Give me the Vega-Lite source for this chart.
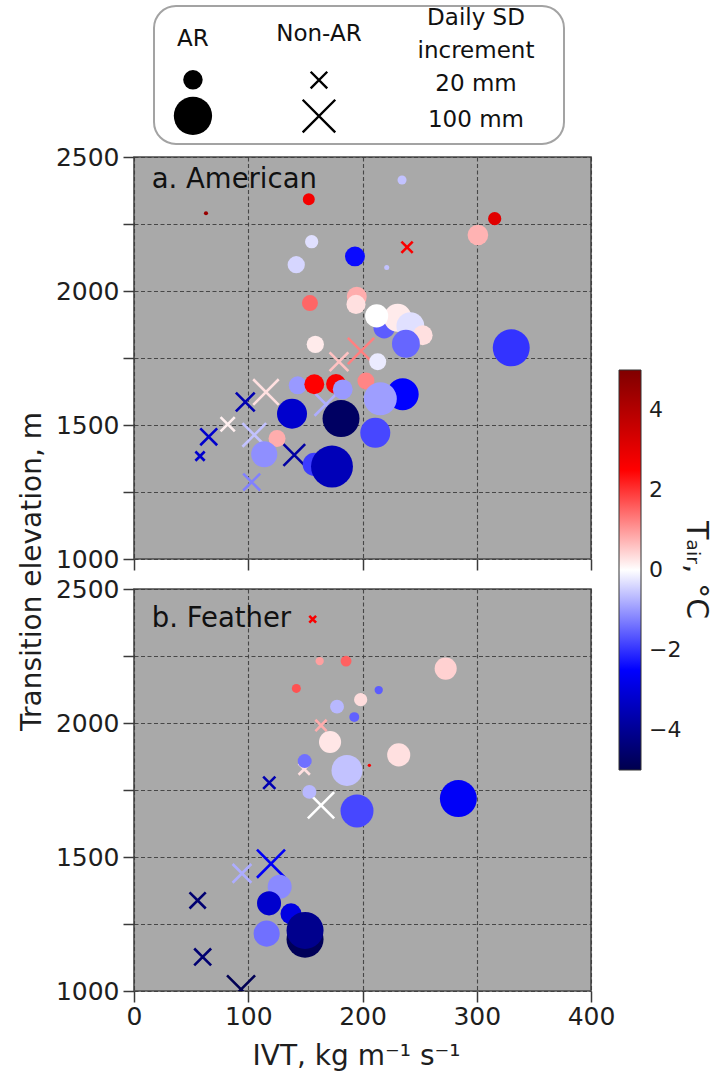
{
  "$schema": "https://vega.github.io/schema/vega-lite/v6.json",
  "autosize": {"type": "pad"},
  "padding": {"left": 17, "top": 4, "right": 14, "bottom": 0},
  "background": "white",
  "config": {
    "font": "DejaVu Sans",
    "view": {"stroke": "#4a4a4a", "strokeWidth": 1.6, "fill": "#a9a9a9"},
    "axis": {
      "labelFontSize": 25, "labelColor": "#1e1e1e", "format": "d",
      "labelFlush": false, "labelOverlap": false, "labelPadding": 4,
      "titleFontSize": 28, "titleFontWeight": "normal", "titleColor": "#1e1e1e",
      "domain": false, "tickColor": "#3a3a3a", "tickWidth": 1.5, "tickSize": 11,
      "grid": true, "gridColor": "#3c3c3c", "gridDash": [4, 2.5], "gridWidth": 1.1, "gridOpacity": 0.9
    },
    "legend": {"gradientLength": 400, "gradientThickness": 22}
  },
  "datasets": {
    "key": [
      {"col": "AR", "row": "head", "label": "AR"},
      {"col": "Non-AR", "row": "head", "label": "Non-AR"},
      {"col": "Daily", "row": "head", "label": "Daily SD\nincrement"},
      {"col": "AR", "row": "20 mm", "sd": 20},
      {"col": "AR", "row": "100 mm", "sd": 100},
      {"col": "Non-AR", "row": "20 mm", "sd": 20},
      {"col": "Non-AR", "row": "100 mm", "sd": 100},
      {"col": "Daily", "row": "20 mm", "label": "20 mm"},
      {"col": "Daily", "row": "100 mm", "label": "100 mm"}
    ],
    "american": [
      {"type": "Non-AR", "ivt": 239, "elev": 2163, "tair": 2.6, "sd": 8},
      {"type": "Non-AR", "ivt": 198.7, "elev": 1776, "tair": 1.25, "sd": 60},
      {"type": "Non-AR", "ivt": 179.4, "elev": 1736, "tair": 0.6, "sd": 27},
      {"type": "Non-AR", "ivt": 115.5, "elev": 1623, "tair": 0.3, "sd": 56},
      {"type": "Non-AR", "ivt": 97.4, "elev": 1586, "tair": -3.6, "sd": 27},
      {"type": "Non-AR", "ivt": 82, "elev": 1503, "tair": 0.15, "sd": 14},
      {"type": "Non-AR", "ivt": 65.4, "elev": 1456, "tair": -3.2, "sd": 21},
      {"type": "Non-AR", "ivt": 57.8, "elev": 1384, "tair": -3.2, "sd": 5},
      {"type": "Non-AR", "ivt": 105.3, "elev": 1463, "tair": -0.6, "sd": 47},
      {"type": "Non-AR", "ivt": 103, "elev": 1287, "tair": -1.25, "sd": 21},
      {"type": "Non-AR", "ivt": 140.3, "elev": 1388, "tair": -3.8, "sd": 38},
      {"type": "Non-AR", "ivt": 168, "elev": 1577, "tair": -0.8, "sd": 43},
      {"type": "AR", "ivt": 63, "elev": 2290, "tair": 4.5, "sd": 0.5},
      {"type": "AR", "ivt": 153, "elev": 2342, "tair": 2.7, "sd": 6.3},
      {"type": "AR", "ivt": 155.5, "elev": 2184, "tair": -0.3, "sd": 8},
      {"type": "AR", "ivt": 142, "elev": 2098, "tair": -0.4, "sd": 15},
      {"type": "AR", "ivt": 154, "elev": 1955, "tair": 1.5, "sd": 12.5},
      {"type": "AR", "ivt": 158.7, "elev": 1801, "tair": 0.2, "sd": 15},
      {"type": "AR", "ivt": 234.6, "elev": 2414, "tair": -0.6, "sd": 3.2},
      {"type": "AR", "ivt": 315.7, "elev": 2270, "tair": 3.1, "sd": 8},
      {"type": "AR", "ivt": 301, "elev": 2209, "tair": 0.75, "sd": 23},
      {"type": "AR", "ivt": 193.4, "elev": 2129, "tair": -2.4, "sd": 21},
      {"type": "AR", "ivt": 221.2, "elev": 2088, "tair": -0.6, "sd": 0.8},
      {"type": "AR", "ivt": 195, "elev": 1979, "tair": 0.8, "sd": 21},
      {"type": "AR", "ivt": 194.3, "elev": 1950, "tair": 0.3, "sd": 19},
      {"type": "AR", "ivt": 219, "elev": 1863, "tair": -1.6, "sd": 25},
      {"type": "AR", "ivt": 230.8, "elev": 1900, "tair": 0.2, "sd": 47},
      {"type": "AR", "ivt": 241.9, "elev": 1869, "tair": -0.3, "sd": 47},
      {"type": "AR", "ivt": 212.4, "elev": 1907, "tair": 0.0, "sd": 30},
      {"type": "AR", "ivt": 252.7, "elev": 1835, "tair": 0.3, "sd": 21},
      {"type": "AR", "ivt": 238, "elev": 1803, "tair": -1.5, "sd": 47},
      {"type": "AR", "ivt": 330.2, "elev": 1788, "tair": -2.0, "sd": 92},
      {"type": "AR", "ivt": 213.3, "elev": 1736, "tair": -0.2, "sd": 14.5},
      {"type": "AR", "ivt": 125.2, "elev": 1450, "tair": 0.8, "sd": 14.5},
      {"type": "AR", "ivt": 114, "elev": 1391, "tair": -1.1, "sd": 40},
      {"type": "AR", "ivt": 138.3, "elev": 1542, "tair": -3.2, "sd": 56},
      {"type": "AR", "ivt": 143.3, "elev": 1648, "tair": -1.0, "sd": 16.6},
      {"type": "AR", "ivt": 157.8, "elev": 1652, "tair": 2.5, "sd": 21},
      {"type": "AR", "ivt": 176.8, "elev": 1653, "tair": 2.6, "sd": 21},
      {"type": "AR", "ivt": 182.7, "elev": 1633, "tair": -1.0, "sd": 21},
      {"type": "AR", "ivt": 203, "elev": 1664, "tair": 1.2, "sd": 14.5},
      {"type": "AR", "ivt": 235.2, "elev": 1615, "tair": -2.5, "sd": 65},
      {"type": "AR", "ivt": 215.6, "elev": 1598, "tair": -0.95, "sd": 70},
      {"type": "AR", "ivt": 211.2, "elev": 1471, "tair": -1.8, "sd": 56},
      {"type": "AR", "ivt": 157.8, "elev": 1353, "tair": -1.9, "sd": 30},
      {"type": "AR", "ivt": 173.3, "elev": 1345, "tair": -3.5, "sd": 124},
      {"type": "AR", "ivt": 181.2, "elev": 1524, "tair": -4.7, "sd": 92}
    ],
    "feather": [
      {"type": "Non-AR", "ivt": 156.4, "elev": 2387, "tair": 2.6, "sd": 2.4},
      {"type": "Non-AR", "ivt": 163.7, "elev": 1991, "tair": 0.8, "sd": 8},
      {"type": "Non-AR", "ivt": 149, "elev": 1828, "tair": 0.3, "sd": 8},
      {"type": "Non-AR", "ivt": 118.4, "elev": 1777, "tair": -3.6, "sd": 9.6},
      {"type": "Non-AR", "ivt": 163.7, "elev": 1693, "tair": 0.0, "sd": 60},
      {"type": "Non-AR", "ivt": 119.9, "elev": 1475, "tair": -2.6, "sd": 70},
      {"type": "Non-AR", "ivt": 94.5, "elev": 1439, "tair": -0.8, "sd": 27},
      {"type": "Non-AR", "ivt": 55.7, "elev": 1338, "tair": -4.5, "sd": 19},
      {"type": "Non-AR", "ivt": 60.1, "elev": 1127, "tair": -4.5, "sd": 21},
      {"type": "Non-AR", "ivt": 93.7, "elev": 1006, "tair": -4.9, "sd": 70},
      {"type": "AR", "ivt": 162.5, "elev": 2231, "tair": 0.93, "sd": 2.6},
      {"type": "AR", "ivt": 142.1, "elev": 2129, "tair": 1.7, "sd": 3.2},
      {"type": "AR", "ivt": 185.6, "elev": 2231, "tair": 1.55, "sd": 5},
      {"type": "AR", "ivt": 272.8, "elev": 2203, "tair": 0.45, "sd": 27},
      {"type": "AR", "ivt": 214.2, "elev": 2123, "tair": -1.6, "sd": 2.6},
      {"type": "AR", "ivt": 198.4, "elev": 2087, "tair": 0.33, "sd": 8},
      {"type": "AR", "ivt": 177.7, "elev": 2061, "tair": -0.7, "sd": 9},
      {"type": "AR", "ivt": 192.8, "elev": 2022, "tair": -1.55, "sd": 4},
      {"type": "AR", "ivt": 171.6, "elev": 1929, "tair": 0.25, "sd": 27},
      {"type": "AR", "ivt": 231.7, "elev": 1881, "tair": 0.3, "sd": 30},
      {"type": "AR", "ivt": 206, "elev": 1842, "tair": 2.6, "sd": 0.3},
      {"type": "AR", "ivt": 149.4, "elev": 1858, "tair": -1.4, "sd": 9},
      {"type": "AR", "ivt": 186.4, "elev": 1823, "tair": -0.6, "sd": 60},
      {"type": "AR", "ivt": 153.5, "elev": 1743, "tair": -0.7, "sd": 9},
      {"type": "AR", "ivt": 195.2, "elev": 1672, "tair": -1.8, "sd": 70},
      {"type": "AR", "ivt": 283.9, "elev": 1718, "tair": -2.6, "sd": 92},
      {"type": "AR", "ivt": 127.5, "elev": 1389, "tair": -1.15, "sd": 33},
      {"type": "AR", "ivt": 118.2, "elev": 1327, "tair": -3.2, "sd": 33},
      {"type": "AR", "ivt": 116.1, "elev": 1214, "tair": -1.4, "sd": 40},
      {"type": "AR", "ivt": 137.4, "elev": 1288, "tair": -2.9, "sd": 24},
      {"type": "AR", "ivt": 149.7, "elev": 1193, "tair": -4.85, "sd": 92},
      {"type": "AR", "ivt": 149.7, "elev": 1226, "tair": -4.1, "sd": 92}
    ]
  },
  "bounds": "flush",
  "spacing": 30,
  "vconcat": [
    {
      "width": 457,
      "height": 402,
      "resolve": {"scale": {"x": "independent", "y": "independent"}},
      "layer": [
        {
          "data": {"name": "american"},
          "layer": [
            {
              "transform": [{"filter": "datum.type === 'Non-AR'"}],
              "mark": {"type": "point", "shape": "M-0.85,-0.85L0.85,0.85M0.85,-0.85L-0.85,0.85", "filled": false, "strokeWidth": 2.6, "opacity": 1, "clip": true},
              "encoding": {
                "x": {"field": "ivt", "type": "quantitative", "scale": {"domain": [0, 400], "nice": false, "zero": false},
                      "axis": {"orient": "bottom", "values": [0, 100, 200, 300, 400], "labels": false, "title": null}},
                "y": {"field": "elev", "type": "quantitative", "scale": {"domain": [1000, 2500], "nice": false, "zero": false},
                      "axis": {"orient": "left", "values": [1000, 1250, 1500, 1750, 2000, 2250, 2500], "labelExpr": "datum.value % 500 === 0 ? datum.label : ''", "title": null}},
                "stroke": {"field": "tair", "type": "quantitative",
                           "scale": {"type": "linear", "domain": [5, 2.5, 0, -2.5, -5], "range": ["#800000", "#ff0000", "#ffffff", "#0000ff", "#00004d"], "interpolate": "rgb"},
                           "legend": null},
                "size": {"field": "sd", "type": "quantitative", "scale": {"type": "pow", "exponent": 0.84, "domain": [0, 100], "range": [0, 1467], "zero": true}, "legend": null}
              }
            },
            {
              "transform": [{"filter": "datum.type === 'AR'"}],
              "mark": {"type": "circle", "opacity": 1, "strokeWidth": 0, "clip": true},
              "encoding": {
                "x": {"field": "ivt", "type": "quantitative"},
                "y": {"field": "elev", "type": "quantitative"},
                "color": {"field": "tair", "type": "quantitative", "title": "Tₐᵢᵣ, °C",
                          "scale": {"type": "linear", "domain": [-5, -2.5, 0, 2.5, 5], "range": ["#00004d", "#0000ff", "#ffffff", "#ff0000", "#800000"], "interpolate": "rgb"},
                          "legend": {"type": "gradient", "orient": "none", "legendX": 485, "legendY": 213, "direction": "vertical", "values": [-4, -2, 0, 2, 4], "labelFontSize": 22, "labelOffset": 8, "labelColor": "#1e1e1e", "titleOrient": "right", "titleAngle": 90, "titleAnchor": "middle", "titleBaseline": "bottom", "titleFontSize": 30, "titleFontWeight": "normal", "titleColor": "#1e1e1e", "titlePadding": 0, "titleLimit": 600, "gradientStrokeColor": "#333", "gradientStrokeWidth": 1, "padding": 0}},
                "size": {"field": "sd", "type": "quantitative", "legend": null}
              }
            },
            {
              "data": {"values": [{"panel": "a. American"}]},
              "mark": {"type": "text", "align": "left", "baseline": "alphabetic", "fontSize": 27.5, "color": "#111"},
              "encoding": {
                "x": {"datum": 15.5, "type": "quantitative"},
                "y": {"datum": 2385, "type": "quantitative"},
                "text": {"field": "panel", "type": "nominal"}
              }
            }
          ]
        },
        {
          "data": {"values": [{"frame": "key"}]},
          "mark": {"type": "rect", "fill": "white", "stroke": "#a3a3a3", "strokeWidth": 2, "cornerRadius": 22},
          "encoding": {
            "x": {"datum": 0, "type": "quantitative", "scale": {"domain": [0, 1], "range": [20, 430], "nice": false, "zero": false}, "axis": null},
            "x2": {"datum": 1},
            "y": {"datum": 0, "type": "quantitative", "scale": {"domain": [0, 1], "range": [-151, -13], "nice": false, "zero": false}, "axis": null},
            "y2": {"datum": 1}
          }
        },
        {
          "data": {"name": "key"},
          "layer": [
            {
              "transform": [{"filter": "datum.row === 'head' && datum.col === 'AR'"}],
              "mark": {"type": "text", "fontSize": 23, "color": "#111", "baseline": "middle"},
              "encoding": {
                "x": {"field": "col", "type": "nominal", "bandPosition": 0.285, "scale": {"type": "band", "domain": ["AR", "Non-AR", "Daily"], "range": [20, 430], "paddingInner": 0, "paddingOuter": 0}, "axis": null},
                "y": {"field": "row", "type": "nominal", "bandPosition": 0.5, "scale": {"type": "band", "domain": ["head", "20 mm", "100 mm"], "range": [-151, -13], "paddingInner": 0, "paddingOuter": 0.417}, "axis": null},
                "text": {"field": "label", "type": "nominal"}
              }
            },
            {
              "transform": [{"filter": "datum.row === 'head' && datum.col === 'Non-AR'"}],
              "mark": {"type": "text", "fontSize": 23, "color": "#111", "baseline": "middle"},
              "encoding": {
                "x": {"field": "col", "type": "nominal", "bandPosition": 0.207},
                "y": {"field": "row", "type": "nominal", "bandPosition": 0.36},
                "text": {"field": "label", "type": "nominal"}
              }
            },
            {
              "transform": [{"filter": "datum.row === 'head' && datum.col === 'Daily'"}],
              "mark": {"type": "text", "fontSize": 23, "color": "#111", "baseline": "middle", "lineBreak": "\n", "lineHeight": 33, "dy": -3},
              "encoding": {
                "x": {"field": "col", "type": "nominal", "bandPosition": 0.356},
                "y": {"field": "row", "type": "nominal", "bandPosition": 0},
                "text": {"field": "label", "type": "nominal"}
              }
            },
            {
              "transform": [{"filter": "datum.row !== 'head' && datum.col === 'AR'"}],
              "mark": {"type": "circle", "color": "black", "opacity": 1},
              "encoding": {
                "x": {"field": "col", "type": "nominal", "bandPosition": 0.285},
                "y": {"field": "row", "type": "nominal", "bandPosition": 0.635},
                "size": {"field": "sd", "type": "quantitative", "legend": null}
              }
            },
            {
              "transform": [{"filter": "datum.row !== 'head' && datum.col === 'Non-AR'"}],
              "mark": {"type": "point", "shape": "M-0.85,-0.85L0.85,0.85M0.85,-0.85L-0.85,0.85", "filled": false, "color": "black", "strokeWidth": 2.4, "opacity": 1},
              "encoding": {
                "x": {"field": "col", "type": "nominal", "bandPosition": 0.207},
                "y": {"field": "row", "type": "nominal", "bandPosition": 0.64},
                "size": {"field": "sd", "type": "quantitative", "legend": null}
              }
            },
            {
              "transform": [{"filter": "datum.row !== 'head' && datum.col === 'Daily'"}],
              "mark": {"type": "text", "fontSize": 23, "color": "#111", "baseline": "middle"},
              "encoding": {
                "x": {"field": "col", "type": "nominal", "bandPosition": 0.356},
                "y": {"field": "row", "type": "nominal", "bandPosition": 0.755},
                "text": {"field": "label", "type": "nominal"}
              }
            }
          ]
        }
      ]
    },
    {
      "width": 457,
      "height": 402,
      "data": {"name": "feather"},
      "layer": [
        {
          "transform": [{"filter": "datum.type === 'Non-AR'"}],
          "mark": {"type": "point", "shape": "M-0.85,-0.85L0.85,0.85M0.85,-0.85L-0.85,0.85", "filled": false, "strokeWidth": 2.6, "opacity": 1, "clip": true},
          "encoding": {
            "x": {"field": "ivt", "type": "quantitative", "scale": {"domain": [0, 400], "nice": false, "zero": false},
                  "axis": {"orient": "bottom", "values": [0, 100, 200, 300, 400], "labelPadding": 2, "title": "IVT, kg m⁻¹ s⁻¹", "titleX": 222, "titleY": 73, "titleAlign": "center", "titleBaseline": "alphabetic"}},
            "y": {"field": "elev", "type": "quantitative", "scale": {"domain": [1000, 2500], "nice": false, "zero": false},
                  "axis": {"orient": "left", "values": [1000, 1250, 1500, 1750, 2000, 2250, 2500], "labelExpr": "datum.value % 500 === 0 ? datum.label : ''",
                           "title": "Transition elevation, m", "titleX": -88, "titleY": -18, "titleAngle": -90, "titleAlign": "center", "titleBaseline": "bottom"}},
            "stroke": {"field": "tair", "type": "quantitative",
                       "scale": {"type": "linear", "domain": [5, 2.5, 0, -2.5, -5], "range": ["#800000", "#ff0000", "#ffffff", "#0000ff", "#00004d"], "interpolate": "rgb"},
                       "legend": null},
            "size": {"field": "sd", "type": "quantitative", "legend": null}
          }
        },
        {
          "transform": [{"filter": "datum.type === 'AR'"}],
          "mark": {"type": "circle", "opacity": 1, "strokeWidth": 0, "clip": true},
          "encoding": {
            "x": {"field": "ivt", "type": "quantitative"},
            "y": {"field": "elev", "type": "quantitative"},
            "color": {"field": "tair", "type": "quantitative", "title": "Tₐᵢᵣ, °C",
                      "scale": {"type": "linear", "domain": [-5, -2.5, 0, 2.5, 5], "range": ["#00004d", "#0000ff", "#ffffff", "#ff0000", "#800000"], "interpolate": "rgb"},
                      "legend": {"type": "gradient", "orient": "none", "legendX": 485, "legendY": 213, "direction": "vertical", "values": [-4, -2, 0, 2, 4], "labelFontSize": 22, "labelOffset": 8, "labelColor": "#1e1e1e", "titleOrient": "right", "titleAngle": 90, "titleAnchor": "middle", "titleBaseline": "bottom", "titleFontSize": 30, "titleFontWeight": "normal", "titleColor": "#1e1e1e", "titlePadding": 0, "titleLimit": 600, "gradientStrokeColor": "#333", "gradientStrokeWidth": 1, "padding": 0}},
            "size": {"field": "sd", "type": "quantitative", "legend": null}
          }
        },
        {
          "data": {"values": [{"panel": "b. Feather"}]},
          "mark": {"type": "text", "align": "left", "baseline": "alphabetic", "fontSize": 27.5, "color": "#111"},
          "encoding": {
            "x": {"datum": 15.5, "type": "quantitative"},
            "y": {"datum": 2359, "type": "quantitative"},
            "text": {"field": "panel", "type": "nominal"}
          }
        }
      ]
    }
  ]
}
